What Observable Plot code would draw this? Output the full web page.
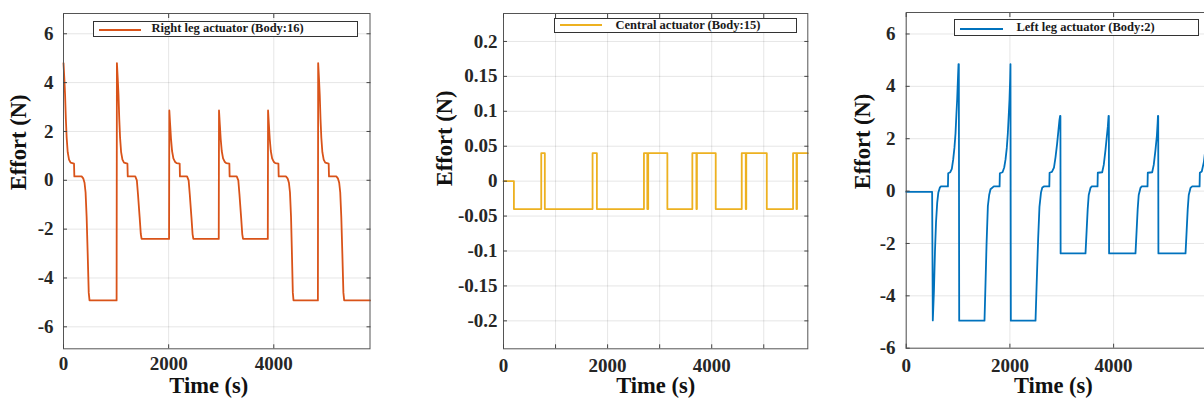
<!DOCTYPE html>
<html>
<head>
<meta charset="utf-8">
<script src="https://cdn.jsdelivr.net/npm/d3@7"></script>
<script src="https://cdn.jsdelivr.net/npm/@observablehq/plot@0.6"></script>
<style>
  html, body { margin: 0; padding: 0; background: #fff; }
  body { width: 1204px; height: 405px; overflow: hidden; position: relative; }
  .panel { position: absolute; top: 0; height: 405px; }
  .panel svg { max-width: none !important; display: block; }
  .legend { position: absolute; box-sizing: border-box; border: 1px solid #333; background: #fff;
            font-family: 'Liberation Serif', 'Times New Roman', serif; font-weight: bold; font-size: 12.5px; color: #1a1a1a; }
  .legend .ln { position: absolute; height: 0; border-top: 2px solid; }
  .legend .tx { position: absolute; white-space: nowrap; line-height: 1; }
</style>
</head>
<body>
<script>
// ---------- data ----------
const rightT = [0,15,30,45,60,80,105,135,200,206,345,375,400,420,440,460,480,495,1010,
  1016,1031,1046,1061,1076,1096,1121,1151,1216,1222,1365,1395,1416,1448,1470,1486,2008,
  2013,2028,2045,2065,2090,2120,2150,2210,2215,2350,2380,2401,2433,2455,2470,2953,
  2958,2973,2990,3010,3035,3065,3095,3155,3160,3295,3325,3346,3378,3400,3415,3886,
  3891,3906,3923,3943,3968,3998,4028,4088,4093,4230,4262,4288,4308,4328,4345,4362,4375,4839,
  4844,4859,4874,4889,4904,4924,4949,4979,5044,5050,5189,5219,5244,5264,5284,5304,5324,5339,5830];
const rightE = [4.8,4.2,3.5,2.5,1.75,1.15,0.85,0.72,0.68,0.16,0.16,0.08,-0.1,-0.5,-1.5,-3.0,-4.6,-4.92,-4.92,
  4.8,4.2,3.5,2.5,1.75,1.15,0.85,0.72,0.68,0.16,0.16,0.0,-0.55,-1.5,-2.2,-2.4,-2.4,
  2.86,2.3,1.7,1.2,0.9,0.76,0.7,0.68,0.16,0.16,0.0,-0.55,-1.5,-2.2,-2.4,-2.4,
  2.86,2.3,1.7,1.2,0.9,0.76,0.7,0.68,0.16,0.16,0.0,-0.55,-1.5,-2.2,-2.4,-2.4,
  2.86,2.3,1.7,1.2,0.9,0.76,0.7,0.68,0.16,0.16,0.08,-0.1,-0.5,-1.5,-3.0,-4.6,-4.92,-4.92,
  4.8,4.2,3.5,2.5,1.75,1.15,0.85,0.72,0.68,0.16,0.16,0.08,-0.1,-0.5,-1.5,-3.0,-4.6,-4.92,-4.92];

const centralT = [0,200,725,794,1711,1794,2698,2763,2780,3148,3628,3706,3716,4077,4577,4654,4664,5058,5563,5629,5639,5846];
const centralE = [0,-0.04,0.04,-0.04,0.04,-0.04,0.04,-0.04,0.04,-0.04,0.04,-0.04,0.04,-0.04,0.04,-0.04,0.04,-0.04,0.04,-0.04,0.04,0.04];

const leftT = [0,500,513,535,555,575,598,620,648,670,805,810,850,880,906,930,951,970,983,998,1009,1015,1022,
  1510,1530,1550,1575,1600,1626,1690,1801,1806,1858,1890,1915,1940,1960,1980,1992,2005,2011,2018,
  2494,2520,2545,2570,2600,2625,2660,2760,2765,2810,2850,2880,2910,2935,2955,2968,2974,2978,
  3458,3480,3500,3520,3554,3580,3690,3695,3780,3810,3844,3870,3889,3903,3908,3913,
  4422,4444,4464,4484,4518,4544,4654,4659,4744,4774,4808,4834,4849,4855,4860,4864,
  5387,5409,5429,5449,5483,5516,5658,5663,5700,5740,5770,5800,5830];
const leftE = [-0.03,-0.03,-4.94,-3.8,-2.3,-1.2,-0.44,-0.05,0.13,0.18,0.18,0.68,0.72,0.85,1.2,1.65,2.2,3.0,3.5,4.3,4.85,4.85,-4.95,
  -4.95,-3.5,-2.0,-0.57,-0.15,0.07,0.18,0.18,0.68,0.72,0.9,1.2,1.65,2.2,3.0,3.5,4.3,4.85,-4.95,
  -4.95,-3.3,-1.8,-0.6,-0.05,0.14,0.18,0.18,0.7,0.73,0.9,1.3,1.8,2.3,2.7,2.87,2.87,-2.38,
  -2.38,-1.5,-0.7,-0.15,0.12,0.18,0.18,0.7,0.72,1.0,1.58,2.1,2.47,2.87,2.87,-2.38,
  -2.38,-1.5,-0.7,-0.15,0.12,0.18,0.18,0.7,0.72,1.0,1.58,2.1,2.6,2.87,2.87,-2.38,
  -2.38,-1.5,-0.7,-0.15,0.12,0.18,0.18,0.7,0.75,1.1,1.6,2.4,3.2];

const legTicksY = [-6,-4,-2,0,2,4,6];
const centralTicksY = [-0.2,-0.15,-0.1,-0.05,0,0.05,0.1,0.15,0.2];
const legTicksX = [0,2000,4000];
const centralTicksX = [0,1000,2000,3000,4000,5000];
const labeledX = [0,2000,4000];
const names = ["Right leg actuator (Body:16)", "Central actuator (Body:15)", "Left leg actuator (Body:2)"];
const colors = ["#D95319", "#EDB120", "#0072BD"];
const xTitle = "Time (s)";
const yTitle = "Effort (N)";

const FONT = "'Liberation Serif', 'Times New Roman', serif";
const fmt = d => String(+(+d).toFixed(2));

function panel(o) {
  const data = o.T.map((t, i) => ({t, e: o.E[i]}));
  const grid = {stroke: "#000", strokeOpacity: 0.1, strokeWidth: 1};
  const txt = {fontFamily: FONT, fontWeight: "bold", fill: "#262626"};
  return Plot.plot({
    width: o.width, height: 405,
    marginLeft: o.ml, marginRight: o.mr, marginTop: o.mt, marginBottom: o.mb,
    x: {domain: o.xDomain, label: null},
    y: {domain: o.yDomain, label: null},
    style: {fontFamily: FONT, fontWeight: "bold", color: "#262626", background: "transparent", overflow: "visible", maxWidth: "none"},
    marks: [
      Plot.gridX(o.xTicks, grid),
      Plot.gridY(o.yTicks, grid),
      Plot.line(data, {x: d => d.t, y: d => d.e, stroke: o.color, strokeWidth: 1.8, curve: o.curve || "linear"}),
      Plot.frame({stroke: "#555", strokeWidth: 1}),
      Plot.axisX(o.xTicks, {anchor: "bottom", tickSize: -4, tickPadding: o.padX, fontSize: 19, label: null, stroke: "#444", ...txt,
        tickFormat: d => labeledX.includes(d) ? String(d) : ""}),
      Plot.axisX(o.xTicks, {anchor: "top", tickSize: -4, label: null, stroke: "#444", tickFormat: () => ""}),
      Plot.axisY(o.yTicks, {anchor: "left", tickSize: -4, tickPadding: o.padY, fontSize: 19, label: null, stroke: "#444", ...txt, tickFormat: fmt}),
      Plot.axisY(o.yTicks, {anchor: "right", tickSize: -4, label: null, stroke: "#444", tickFormat: () => ""}),
      Plot.text([xTitle], {text: d => d, frameAnchor: "bottom", dy: o.xtDy, dx: o.xtDx, fontSize: 22.5, ...txt, fill: "#111"}),
      Plot.text([yTitle], {text: d => d, frameAnchor: "left", rotate: -90, dx: o.ytDx, dy: o.ytDy, fontSize: 22.5, ...txt, fill: "#111"})
    ]
  });
}

const panels = [
  {left: 0, width: 380, ml: 63, mr: 10.5, mt: 13, mb: 56.7, xDomain: [0, 5830], yDomain: [-6.9, 6.83],
   T: rightT, E: rightE, color: colors[0], xTicks: legTicksX, yTicks: legTicksY, padX: 12, padY: 14,
   xtDy: 44, xtDx: -8, ytDx: -44.5, ytDy: 9},
  {left: 420, width: 400, ml: 83, mr: 12.7, mt: 13, mb: 56.7, xDomain: [0, 5846], yDomain: [-0.24, 0.24],
   T: centralT, E: centralE, color: colors[1], xTicks: centralTicksX, yTicks: centralTicksY, padX: 14, padY: 10,
   xtDy: 44.5, xtDx: 0, ytDx: -59, ytDy: 5, curve: "step-after"},
  {left: 840, width: 380, ml: 65.7, mr: 12, mt: 12, mb: 57.3, xDomain: [0, 5830], yDomain: [-6, 6.82],
   T: leftT, E: leftE, color: colors[2], xTicks: legTicksX, yTicks: legTicksY, padX: 14, padY: 14.7,
   xtDy: 44.6, xtDx: -4, ytDx: -43, ytDy: 9}
];

panels.forEach(p => {
  const div = document.createElement("div");
  div.className = "panel";
  div.style.left = p.left + "px";
  div.style.width = p.width + "px";
  div.appendChild(panel(p));
  document.body.appendChild(div);
});

// legends (box, line sample, text)
const legends = [
  {left: 93, top: 20.5, w: 265, h: 16.5, l1: 4.5, l2: 47, ly: 7, tx: 57.5, name: names[0], color: colors[0]},
  {left: 554, top: 18.3, w: 242.5, h: 14.7, l1: 5, l2: 47, ly: 5.2, tx: 60.5, name: names[1], color: colors[1]},
  {left: 954.3, top: 19.3, w: 245, h: 16.7, l1: 5, l2: 47.4, ly: 7.3, tx: 61.2, name: names[2], color: colors[2]}
];
legends.forEach(g => {
  const box = document.createElement("div");
  box.className = "legend";
  Object.assign(box.style, {left: g.left + "px", top: g.top + "px", width: g.w + "px", height: g.h + "px"});
  const ln = document.createElement("div");
  ln.className = "ln";
  Object.assign(ln.style, {left: g.l1 + "px", width: (g.l2 - g.l1) + "px", top: g.ly + "px", borderTopColor: g.color});
  const tx = document.createElement("div");
  tx.className = "tx";
  tx.textContent = g.name;
  Object.assign(tx.style, {left: g.tx + "px", top: (g.h / 2 - 7.5) + "px"});
  box.appendChild(ln); box.appendChild(tx);
  document.body.appendChild(box);
});
</script>
</body>
</html>
